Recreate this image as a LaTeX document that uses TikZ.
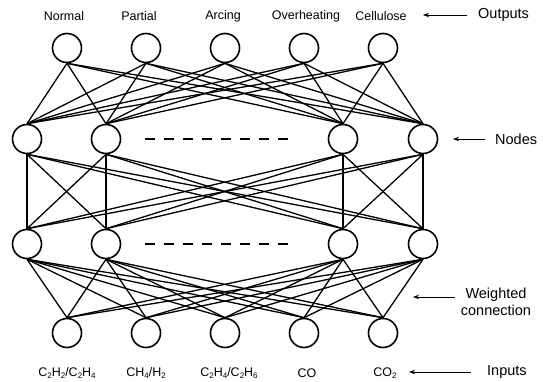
\documentclass[tikz,border=0pt]{standalone}
\usepackage{fontspec}
\setmainfont{Liberation Sans}
\usetikzlibrary{arrows.meta}
\newcommand\sbs[1]{\raisebox{-0.3ex}{\fontsize{8}{8}\selectfont #1}}
\tikzset{
  neuron/.style={circle,draw,line width=1.6pt,minimum size=29pt,inner sep=0pt},
  link/.style={line width=1.3pt},
  toplab/.style={font=\fontsize{12.5}{14}\selectfont,inner sep=0pt},
  botlab/.style={font=\fontsize{12.5}{14}\selectfont,inner sep=0pt},
  sidelab/.style={font=\fontsize{14.5}{17}\selectfont,inner sep=0pt,align=center},
  pointer/.style={line width=0.9pt,-{Stealth[length=6pt,width=4.5pt]}},
  dots/.style={line width=1.4pt,dash pattern=on 10pt off 9pt}
}
\begin{document}
\begin{tikzpicture}[x=1pt,y=-1pt]
\useasboundingbox (0,0) rectangle (547,381);
% output nodes
\node[neuron] (o1) at (67,48) {};
\node[neuron] (o2) at (146,48) {};
\node[neuron] (o3) at (225,48) {};
\node[neuron] (o4) at (304,48) {};
\node[neuron] (o5) at (383,48) {};
% hidden layer 1
\node[neuron] (h1) at (27,139) {};
\node[neuron] (h2) at (106,139) {};
\node[neuron] (h3) at (343,139) {};
\node[neuron] (h4) at (423,139) {};
% hidden layer 2
\node[neuron] (g1) at (27,244) {};
\node[neuron] (g2) at (106,244) {};
\node[neuron] (g3) at (343,244) {};
\node[neuron] (g4) at (423,244) {};
% input nodes
\node[neuron] (i1) at (67,333) {};
\node[neuron] (i2) at (146,333) {};
\node[neuron] (i3) at (225,333) {};
\node[neuron] (i4) at (304,333) {};
\node[neuron] (i5) at (383,333) {};
% connections
\foreach \a in {1,...,5}{\foreach \b in {1,...,4}{\draw[link] (o\a.south) -- (h\b.north);}}
\foreach \a in {1,...,4}{\foreach \b in {1,...,4}{\draw[link] (h\a.south) -- (g\b.north);}}
\foreach \a in {1,...,4}{\foreach \b in {1,...,5}{\draw[link] (g\a.south) -- (i\b.north);}}
% dashed continuation
\coordinate (d1a) at (145,139); \coordinate (d1b) at (296,139);
\coordinate (d2a) at (145,244); \coordinate (d2b) at (296,244);
\draw[dots] (d1a) -- (d1b);
\draw[dots] (d2a) -- (d2b);
% output labels
\node[toplab] (lo1) at (64,16) {Normal};
\node[toplab] (lo2) at (139,16) {Partial};
\node[toplab] (lo3) at (223,16) {Arcing};
\node[toplab] (lo4) at (306,16) {Overheating};
\node[toplab] (lo5) at (381,16) {Cellulose};
% input labels
\node[botlab] (li1) at (67,373) {C\sbs{2}H\sbs{2}/C\sbs{2}H\sbs{4}};
\node[botlab] (li2) at (146,373) {CH\sbs{4}/H\sbs{2}};
\node[botlab] (li3) at (229,373) {C\sbs{2}H\sbs{4}/C\sbs{2}H\sbs{6}};
\node[botlab] (li4) at (307,373) {CO};
\node[botlab] (li5) at (385,373) {CO\sbs{2}};
% side labels
\node[sidelab,anchor=west] (tout) at (478,15) {Outputs};
\coordinate (aout) at (423,15);
\draw[pointer] (tout.west) ++(-11,0) coordinate (aouts) -- (aout);
\node[sidelab,anchor=west] (tnod) at (495,139) {Nodes};
\coordinate (anod) at (453,139);
\draw[pointer] (tnod.west) ++(-10,0) coordinate (anods) -- (anod);
\node[sidelab] (twc) at (496,302) {Weighted\\connection};
\coordinate (awc) at (413,297);
\coordinate (awcs) at (455,297);
\draw[pointer] (awcs) -- (awc);
\node[sidelab,anchor=west] (tin) at (487,372) {Inputs};
\coordinate (ain) at (409,372);
\draw[pointer] (tin.west) ++(-16,0) coordinate (ains) -- (ain);
\end{tikzpicture}
\end{document}
